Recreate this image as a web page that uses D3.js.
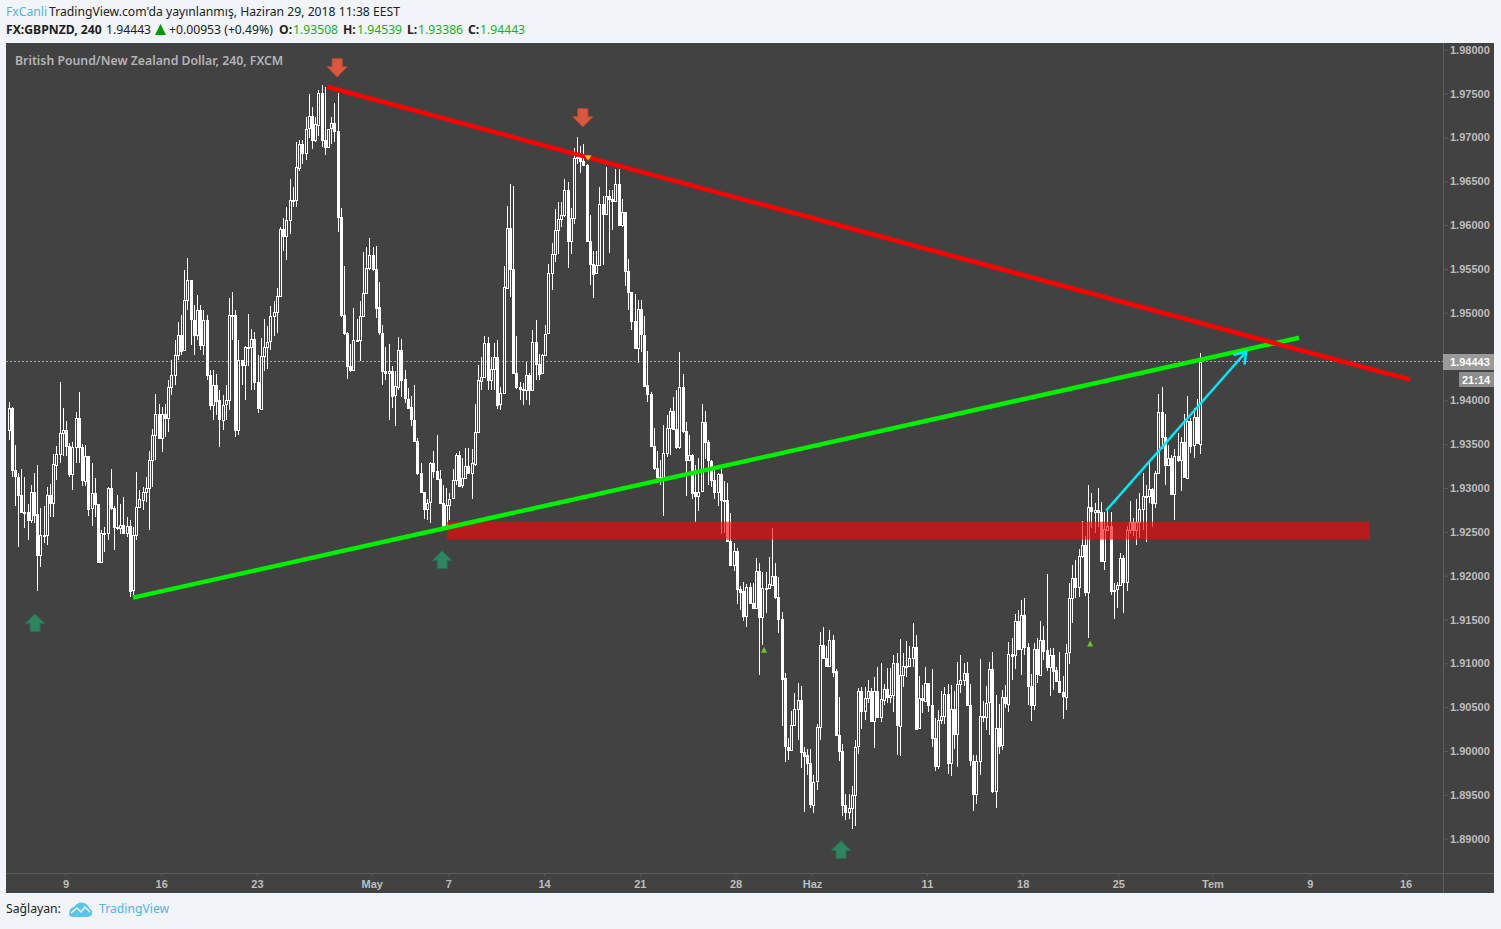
<!DOCTYPE html>
<html><head><meta charset="utf-8">
<script src="https://cdn.jsdelivr.net/npm/d3@7/dist/d3.min.js"></script>
<style>html,body{margin:0;padding:0;background:#f1f4f8;overflow:hidden}svg{display:block}</style>
</head><body><svg id="c" width="1501" height="929"></svg>
<script>
// Prices are stored in pips above 1.89000
const basePrice = 1.89, pip = 0.0001;
const firstOpen = 466;
const closes = [
491,420,413,392,373,373,364,396,370,323,346,346,392,383,427,439,463,466,448,416,447,480,447,409,437,377,394,382,316,349,349,400,377,355,355,358,349,357,283,346,378,387,396,400,432,461,485,458,485,480,515,
529,552,575,557,614,637,592,575,603,563,592,529,495,518,500,478,495,500,597,597,466,546,
540,561,561,570,521,491,551,561,567,596,601,619,
696,688,706,729,728,766,793,783,810,824,797,815,851,797,789,810,816,807,709,597,
577,539,535,569,569,596,622,651,666,650,606,577,534,532,534,506,516,558,524,502,492,478,454,417,395,376,383,428,419,410,383,354,381,388,409,438,403,411,425,417,428,464,
523,527,566,524,536,550,495,508,629,697,650,531,515,513,512,529,512,567,542,531,552,576,645,667,694,707,712,740,682,708,777,778,773,769,682,656,645,654,724,713,733,730,728,747,700,715,648,624,591,560,604,575,517,
507,448,423,413,411,440,469,488,467,447,515,465,432,438,395,391,396,475,452,431,409,395,416,386,386,339,312,328,285,282,254,287,269,263,305,253,286,286,290,300,276,251,
183,105,102,130,148,158,99,95,86,39,65,127,221,206,197,227,191,118,100,38,30,35,50,105,168,145,160,168,134,168,138,159,171,162,164,200,129,187,197,197,206,219,126,160,158,178,153,115,83,135,140,165,86,148,119,176,181,189,152,89,51,89,
140,139,155,193,54,126,106,161,154,211,209,248,216,255,219,174,152,216,187,227,215,196,210,192,180,167,162,212,274,297,287,
322,335,281,378,373,375,373,317,353,357,283,284,289,320,293,352,361,352,361,376,391,391,399,383,417,487,458,426,434,393,436,431,452,412,477,449,481,451,544.3];
const highs = [
498,493,449,417,422,413,382,403,417,426,377,380,401,405,439,448,521,491,477,451,453,487,510,450,449,436,428,411,382,352,356,401,422,379,392,382,390,367,363,356,418,398,401,413,442,467,507,496,493,496,523,
546,569,589,597,649,662,632,609,620,609,603,597,535,535,530,512,506,518,617,624,603,569,
542,562,599,582,578,552,571,593,585,608,613,628,
698,708,721,753,744,795,797,797,823,850,835,823,854,860,858,810,823,839,851,719,
653,578,564,605,593,613,669,675,685,675,676,635,586,561,564,539,533,572,570,535,514,505,517,457,428,396,388,430,442,460,421,404,400,394,422,440,442,434,446,446,444,496,
540,550,573,572,549,566,569,515,653,722,747,745,574,521,520,544,531,580,592,553,553,586,656,679,718,726,726,753,749,719,788,800,790,792,770,711,670,671,744,733,766,740,740,764,764,730,715,661,624,621,614,614,596,
556,510,468,442,432,472,483,491,504,512,555,530,475,461,439,426,434,496,488,455,432,420,417,422,408,406,371,337,331,288,293,290,292,292,320,315,304,304,321,354,314,299,
259,189,115,146,166,178,174,105,102,102,73,131,236,241,220,238,232,193,162,108,51,51,60,113,172,173,173,181,172,184,196,200,176,195,195,210,212,228,212,225,220,246,232,186,175,196,166,194,138,147,168,173,176,175,168,202,210,200,202,176,95,95,
205,157,174,202,213,164,154,169,175,224,229,256,261,272,275,223,188,223,229,248,243,302,217,218,196,213,186,222,292,312,318,
330,362,345,403,394,383,400,384,373,375,373,292,293,326,324,357,385,366,388,394,417,404,428,400,419,507,515,485,449,438,444,463,458,485,505,480,491,502,553.9];
const lows = [
455,413,380,333,371,354,341,360,360,282,310,337,335,367,367,409,428,437,436,413,398,428,428,402,402,368,357,367,316,314,327,341,375,329,352,348,348,344,276,278,341,377,375,384,352,401,432,456,441,458,464,
506,517,546,552,563,603,563,552,569,557,552,523,489,478,483,447,466,478,489,569,458,460,
518,501,539,512,512,486,539,534,536,558,573,577,
618,671,660,690,721,721,762,770,774,799,787,795,802,789,780,791,793,795,692,595,
575,524,532,534,569,545,596,622,649,648,594,575,518,523,478,491,471,512,504,497,491,471,453,415,394,365,364,360,412,409,383,352,364,364,387,403,402,400,410,416,387,425,
505,512,525,512,512,512,490,489,512,627,618,530,513,500,495,500,495,512,523,523,531,551,576,626,658,667,698,709,651,667,701,770,760,768,682,632,617,645,654,654,713,668,694,726,700,698,630,603,580,560,543,555,517,
498,447,420,407,404,368,435,438,466,445,445,463,391,431,387,361,374,395,433,403,401,387,379,347,349,339,311,305,268,261,248,242,268,262,263,187,221,257,286,290,273,235,
128,87,90,102,129,112,81,30,72,35,29,56,113,205,197,216,184,117,88,26,21,22,11,14,96,125,135,155,133,103,138,133,152,155,155,144,95,94,173,184,196,196,125,126,143,157,144,105,77,79,131,131,74,71,102,82,166,174,151,83,31,40,
72,133,124,118,52,35,96,101,149,144,181,193,215,187,210,153,134,147,178,187,204,191,163,170,179,166,136,147,199,246,275,
276,320,277,229,354,349,356,316,306,351,278,250,263,288,257,282,347,345,335,343,352,338,383,356,377,416,445,404,425,392,363,430,397,411,412,440,434,450,438.6];

// Axes (the 1.94500 label is hidden behind the last-price tag in the reference)
const priceTicks = [1.89,1.895,1.90,1.905,1.91,1.915,1.92,1.925,1.93,1.935,1.94,1.95,1.955,1.96,1.965,1.97,1.975,1.98];
const timeTickIndex = [0,30,60,96,120,150,180,210,234,270,300,330,359.5,390,420];
const timeTickLabels = ["9","16","23","May","7","14","21","28","Haz","11","18","25","Tem","9","16"];
const lastPrice = 1.94443, lastLabel = "1.94443", timerLabel = "21:14";

// Drawings: [bar index on the time axis, price]
const redLine = [[81.8,1.97578],[421.3,1.94236]];
const greenLine = [[21,1.91749],[386.5,1.94715]];
const cyanArrow = [[326,1.92742],[369.9,1.94555]];
const zoneIndex = [119.4,408.5], zonePrice = [1.92616,1.92411];
const upArrows = [[-9.7,1.91452],[117.9,1.92171],[242.9,1.88863]];
const downArrows = [[85,1.97806],[162,1.97236]];
const smallGreen = [[218.8,1.91156],[321,1.91225]];
const smallYellow = [[163.6,1.96768]];

const FONT = "'Liberation Sans',Arial,sans-serif";
const HFONT = "'Noto Sans',sans-serif";
const BG = "#424242";

const svg = d3.select("#c");
const y = d3.scaleLinear().domain([1.89,1.98]).range([838.6,49.8]);
const t = d3.scaleLinear().domain([0,420]).range([66,1406]);
const x = d3.scaleLinear().domain([0,closes.length-1]).range([8.5,1200]);
const P = v => basePrice + v*pip;

svg.append("rect").attr("x",6).attr("y",43).attr("width",1488).attr("height",850).attr("fill",BG);

// last price line
const ly=Math.floor(y(lastPrice));
svg.append("line").attr("x1",6).attr("x2",1443).attr("y1",ly+.5).attr("y2",ly+.5)
  .attr("stroke","#a8a8a8").attr("stroke-dasharray","2,2");

// candles
svg.append("clipPath").attr("id","plot").append("rect").attr("x",7).attr("y",43).attr("width",1436).attr("height",830);
const candles = closes.map((c,i)=>({i,o:i?closes[i-1]:firstOpen,c,
   h:Math.max(highs[i],c,i?closes[i-1]:firstOpen),l:Math.min(lows[i],c,i?closes[i-1]:firstOpen)}));
const g = svg.append("g").attr("clip-path","url(#plot)").attr("shape-rendering","crispEdges");
const cx = d=>Math.round(x(d.i))+.5;
g.selectAll("line.w").data(candles).join("line").attr("class","w")
  .attr("x1",cx).attr("x2",cx).attr("y1",d=>y(P(d.h))).attr("y2",d=>y(P(d.l))).attr("stroke","#fff");
g.selectAll("rect.b").data(candles).join("rect").attr("class","b")
  .attr("x",d=>cx(d)-1).attr("width",2)
  .attr("y",d=>Math.round(y(P(Math.max(d.o,d.c))))+.5)
  .attr("height",d=>Math.max(1,Math.round(Math.abs(y(P(d.o))-y(P(d.c))))))
  .attr("fill",d=>d.c>=d.o?BG:"#fff").attr("stroke","#fff");

// zone
svg.append("rect").attr("x",t(zoneIndex[0])).attr("width",t(zoneIndex[1])-t(zoneIndex[0]))
  .attr("y",y(zonePrice[0])).attr("height",y(zonePrice[1])-y(zonePrice[0])).attr("fill","rgb(252,5,5)").attr("fill-opacity",.635);

// trend lines
const ln = d3.line().x(d=>t(d[0])).y(d=>y(d[1]));
svg.append("path").attr("d",ln(greenLine)).attr("stroke","#00f000").attr("stroke-width",4.5).attr("fill","none");
svg.append("path").attr("d",ln(redLine)).attr("stroke","#ff0000").attr("stroke-width",4.5).attr("fill","none");
svg.append("path").attr("d",ln(cyanArrow)).attr("stroke","#00e8f8").attr("stroke-width",2.5).attr("fill","none");
// arrow head
(function(){
  const [a,b]=cyanArrow, x1=t(a[0]),y1=y(a[1]),x2=t(b[0]),y2=y(b[1]);
  const ang=Math.atan2(y2-y1,x2-x1),L=13,sp=0.6;
  const p=[[x2-L*Math.cos(ang-sp),y2-L*Math.sin(ang-sp)],[x2,y2],[x2-L*Math.cos(ang+sp),y2-L*Math.sin(ang+sp)]];
  svg.append("path").attr("d",d3.line()(p)).attr("stroke","#00e8f8").attr("stroke-width",2.5).attr("fill","none");
})();

// block arrows
const arrowUp="M0,-10 L10,0 L5,0 L5,8 L-5,8 L-5,0 L-10,0 Z";
const arrowDown="M0,10 L10,0 L5,0 L5,-8 L-5,-8 L-5,0 L-10,0 Z";
svg.selectAll("path.up").data(upArrows).join("path").attr("class","up").attr("d",arrowUp)
  .attr("transform",d=>`translate(${t(d[0])},${y(d[1])})`).attr("fill","#2f855f").attr("stroke","#276b4e");
svg.selectAll("path.dn").data(downArrows).join("path").attr("class","dn").attr("d",arrowDown)
  .attr("transform",d=>`translate(${t(d[0])},${y(d[1])})`).attr("fill","#d9583f").attr("stroke","#c44a33");
svg.selectAll("path.sg").data(smallGreen).join("path").attr("class","sg").attr("d","M0,-3 L3,3 L-3,3 Z")
  .attr("transform",d=>`translate(${t(d[0])},${y(d[1])})`).attr("fill","#6fbf3a");
svg.selectAll("path.sy").data(smallYellow).join("path").attr("class","sy").attr("d","M0,3 L3.5,-2.5 L-3.5,-2.5 Z")
  .attr("transform",d=>`translate(${t(d[0])},${y(d[1])})`).attr("fill","#f5b800");

// axes lines
svg.append("line").attr("x1",6).attr("x2",1494).attr("y1",873.5).attr("y2",873.5).attr("stroke","#5c5c5c");
svg.append("line").attr("x1",1443.5).attr("x2",1443.5).attr("y1",43).attr("y2",893).attr("stroke","#5c5c5c");

// price axis
const ya = d3.axisRight(y).tickValues(priceTicks).tickFormat(d3.format(".5f")).tickSize(4).tickPadding(2);
const yg = svg.append("g").attr("transform","translate(1444,0)").call(ya);
yg.select(".domain").remove();
yg.selectAll("line").attr("stroke","#5c5c5c");
yg.selectAll("text").attr("fill","#bdbdbd").attr("font-family",FONT).attr("font-size",11).attr("font-weight","bold");

// time axis
const xa = d3.axisBottom(t).tickValues(timeTickIndex).tickFormat((d,i)=>timeTickLabels[i]).tickSize(3).tickPadding(4);
const xg = svg.append("g").attr("transform","translate(-0.5,873)").call(xa);
xg.select(".domain").remove();
xg.selectAll("line").attr("stroke","#5c5c5c");
xg.selectAll("text").attr("fill","#bdbdbd").attr("font-family",FONT).attr("font-size",11).attr("font-weight","bold");

// last price boxes
svg.append("rect").attr("x",1443).attr("y",354).attr("width",51).attr("height",16).attr("fill","#9a9a9a");
svg.append("text").attr("x",1450).attr("y",366).text(lastLabel).attr("fill","#fff").attr("font-family",FONT).attr("font-size",11).attr("font-weight","bold");
svg.append("rect").attr("x",1459).attr("y",372).attr("width",35).attr("height",15).attr("fill","#8e8e8e");
svg.append("text").attr("x",1462).attr("y",384).text(timerLabel).attr("fill","#fff").attr("font-family",FONT).attr("font-size",11).attr("font-weight","bold");

// chart title
svg.append("text").attr("x",15).attr("y",65).text("British Pound/New Zealand Dollar, 240, FXCM")
  .attr("fill","#b4b4b4").attr("font-family",HFONT).attr("font-size",12.27).attr("font-weight",600);

// header
function T(xp,yp,s,fill,w,size){svg.append("text").attr("x",xp).attr("y",yp).text(s).attr("fill",fill)
  .attr("font-family",HFONT).attr("font-size",size||12.2).attr("font-weight",w||400);}
const green="#1fae1f", blue="#4db5e6", dark="#222";
T(6,16,"FxCanli",blue,400);
T(49,16,"TradingView.com'da yayınlanmış, Haziran 29, 2018 11:38 EEST",dark);
T(6,34,"FX:GBPNZD, 240",dark,700);
T(106,34,"1.94443",dark);
svg.append("path").attr("d","M155,35 L166,35 L160.5,24 Z").attr("fill","#009900");
T(169,34,"+0.00953 (+0.49%)",dark);
T(279,34,"O:",dark,700); T(293,34,"1.93508",green);
T(343,34,"H:",dark,700); T(357,34,"1.94539",green);
T(407,34,"L:",dark,700); T(418,34,"1.93386",green);
T(468,34,"C:",dark,700); T(480,34,"1.94443",green);

// footer
T(6,913,"Sağlayan:",dark);
svg.append("path").attr("d","M69,914 Q69,908 74,907 Q78,901 84,903 Q88,904 89,908 Q93,910 92,914 Q91,917 87,917 L73,917 Q69,917 69,914 Z").attr("fill","#5cc4e8");
svg.append("path").attr("d","M71,913 L77,908 L81,912 L85,907 L90,912").attr("stroke","#f1f4f8").attr("stroke-width",1.5).attr("fill","none");
T(99,913,"TradingView",blue);
</script></body></html>
